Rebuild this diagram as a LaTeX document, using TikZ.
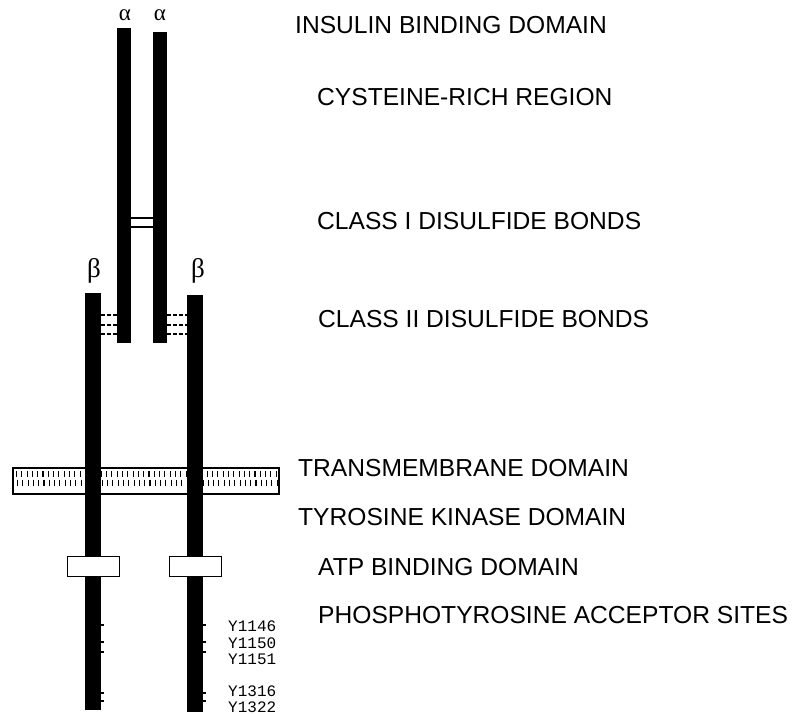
\documentclass[tikz,border=0pt]{standalone}
\usepackage{fontspec}
\setmainfont{Liberation Sans}
\newfontfamily\greekfont{Liberation Serif}
\newfontfamily\monofont{Liberation Mono}
\begin{document}
\begin{tikzpicture}[x=1pt,y=-1pt,
  chainbar/.style={fill=black,draw=none,inner sep=0pt,anchor=north west},
  lbl/.style={anchor=west,inner sep=0pt,font=\fontsize{24.6}{26}\selectfont},
  greek/.style={inner sep=0pt,anchor=base,font=\greekfont\fontsize{27}{29}\selectfont},
  smallgreek/.style={greek,font=\greekfont\fontsize{23}{25}\selectfont},
  ysite/.style={anchor=west,inner sep=0pt,font=\monofont\fontsize{16}{17}\selectfont},
  atpbox/.style={draw=black,fill=white,line width=1.2pt,inner sep=0pt,anchor=north west,minimum width=52pt,minimum height=20pt},
  sbond/.style={line width=1.3pt},
  dbond/.style={line width=2pt,dash pattern=on 4pt off 2pt},
  tick/.style={line width=1.8pt}]
\useasboundingbox (0,0) rectangle (796,714);
% membrane
\node[draw=black,fill=white,line width=1.5pt,inner sep=0pt,anchor=north west,minimum width=266pt,minimum height=26pt] (mem) at (12,467) {};
\foreach \i in {0,...,49}{
  \pgfmathsetmacro{\xx}{16.5+5.3*\i}
  \draw[line width=1.1pt] (\xx,471) -- (\xx,477);
  \draw[line width=1.1pt] (\xx+1,479.5) -- (\xx+1,485.5);
}
% chains
\node[chainbar,minimum width=14pt,minimum height=315pt] (a1) at (117,28) {};
\node[chainbar,minimum width=14pt,minimum height=311pt] (a2) at (153,32) {};
\node[chainbar,minimum width=16pt,minimum height=417pt] (b1) at (85,293) {};
\node[chainbar,minimum width=16pt,minimum height=417pt] (b2) at (187,295) {};
% greek labels
\node[smallgreek] (la1) at (125,20.5) {α};
\node[smallgreek] (la2) at (160,20.5) {α};
\node[greek] (lb1) at (94,278) {β};
\node[greek] (lb2) at (198,278) {β};
% class I disulfide
\draw[sbond] (a1.east |- 0,218) -- (a2.west |- 0,218);
\draw[sbond] (a1.east |- 0,227) -- (a2.west |- 0,227);
% class II disulfide
\foreach \yy in {315,325,334}{
  \draw[dbond] (b1.east |- 0,\yy) -- (a1.west |- 0,\yy);
  \draw[dbond] (a2.east |- 0,\yy) -- (b2.west |- 0,\yy);
}
% ATP boxes
\node[atpbox] (atp1) at (67,556) {};
\node[atpbox] (atp2) at (169,556) {};
% phosphotyrosine ticks
\foreach \yy in {625,642,652,693,701}{
  \draw[tick] (b1.east |- 0,\yy) -- ++(2.5,0);
  \draw[tick] (b2.east |- 0,\yy) -- ++(2.5,0);
}
% site labels
\node[ysite] (y1) at (228,626) {Y1146};
\node[ysite] (y2) at (228,643) {Y1150};
\node[ysite] (y3) at (228,659) {Y1151};
\node[ysite] (y4) at (228,691) {Y1316};
\node[ysite] (y5) at (228,707) {Y1322};
% domain labels
\node[lbl] (t1) at (295,25) {INSULIN BINDING DOMAIN};
\node[lbl] (t2) at (317,97) {CYSTEINE-RICH REGION};
\node[lbl] (t3) at (317,221) {CLASS I DISULFIDE BONDS};
\node[lbl] (t4) at (318,319) {CLASS II DISULFIDE BONDS};
\node[lbl] (t5) at (298,468) {TRANSMEMBRANE DOMAIN};
\node[lbl] (t6) at (298,517) {TYROSINE KINASE DOMAIN};
\node[lbl] (t7) at (318,567) {ATP BINDING DOMAIN};
\node[lbl] (t8) at (318,615) {PHOSPHOTYROSINE ACCEPTOR SITES};
\end{tikzpicture}
\end{document}
